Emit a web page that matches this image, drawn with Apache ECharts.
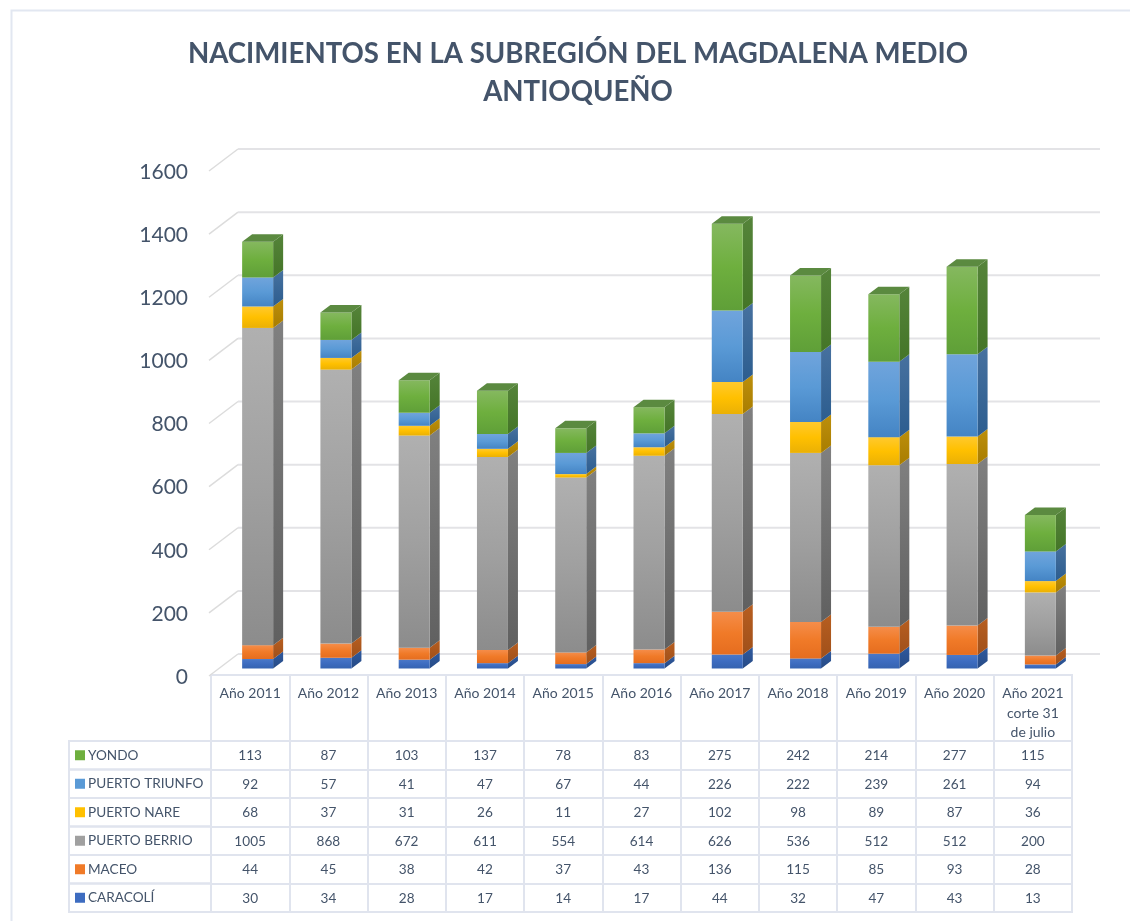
<!DOCTYPE html>
<html>
<head>
<meta charset="utf-8">
<style>html,body{margin:0;padding:0;background:#fff}#c{width:1130px;height:921px}</style>
<script src="https://cdn.jsdelivr.net/npm/echarts@6/dist/echarts.min.js"></script>
</head>
<body>
<div id="c"></div>
<script>
const chartTitle = 'NACIMIENTOS EN LA SUBREGIÓN DEL MAGDALENA MEDIO\nANTIOQUEÑO';
const categories = ['Año 2011','Año 2012','Año 2013','Año 2014','Año 2015','Año 2016','Año 2017','Año 2018','Año 2019','Año 2020','Año 2021\ncorte 31\nde julio'];
const caracoli = [30,34,28,17,14,17,44,32,47,43,13];
const maceo = [44,45,38,42,37,43,136,115,85,93,28];
const puertoBerrio = [1005,868,672,611,554,614,626,536,512,512,200];
const puertoNare = [68,37,31,26,11,27,102,98,89,87,36];
const puertoTriunfo = [92,57,41,47,67,44,226,222,239,261,94];
const yondo = [113,87,103,137,78,83,275,242,214,277,115];
const yTicks = [0,200,400,600,800,1000,1200,1400,1600];

const INK = '#44546a', TABLE_LINE = '#e0e4ee', WALL_LINE = '#e3e3e6', FONT = 'Lato';
const BAR_W = 31, DX = 10, DY = 7.5, BAR_SHIFT_X = 7.5, BAR_SHIFT_Y = 8.5, WALL_DX = 27, WALL_DY = 23, LEFT_COL = 142;

const stacks = [
  {name:'CARACOLÍ', values:caracoli, front:['#4a78c8','#3d6cc0','#3563b0'], side:['#2f5a9f','#264a85']},
  {name:'MACEO', values:maceo, front:['#f58d4a','#f07a28','#e56d1f'], side:['#b75e20','#a0501a']},
  {name:'PUERTO BERRIO', values:puertoBerrio, front:['#b0b0b0','#a0a0a0','#8c8c8c'], side:['#808080','#606060']},
  {name:'PUERTO NARE', values:puertoNare, front:['#ffc92e','#ffc000','#eab005'], side:['#bd8f0c','#a87d00']},
  {name:'PUERTO TRIUNFO', values:puertoTriunfo, front:['#70a4dc','#5a9ad6','#4484c4'], side:['#47719f','#2c5d8f']},
  {name:'YONDO', values:yondo, front:['#85b85f','#6eaf3e','#5f9f38'], side:['#55843a','#447527'], top:'#5b8a40'}
];
const rowOrder = stacks.slice().reverse();
const rowNames = rowOrder.map(s => s.name);

function grad(colors){
  return {type:'linear',x:0,y:0,x2:0,y2:1,colorStops:colors.map((c,i)=>({offset:i/(colors.length-1),color:c}))};
}

function renderWall(params, api){
  const cs = params.coordSys;
  const y = api.coord([0, api.value(1)])[1];
  const x0 = cs.x, x1 = cs.x + WALL_DX, x2 = cs.x + cs.width + WALL_DX + 1;
  return {type:'group',children:[
    {type:'line',shape:{x1:x0-2,y1:y-1,x2:x1,y2:y-WALL_DY},style:{stroke:'#dcdcdc',lineWidth:1.5}},
    {type:'line',shape:{x1:x1,y1:y-WALL_DY,x2:x2,y2:y-WALL_DY},style:{stroke:WALL_LINE,lineWidth:2}}
  ]};
}

function makeRenderBar(stack){
  return function(params, api){
    const i = api.value(0);
    const c = api.coord([i, api.value(1)]);
    const d = api.coord([i, api.value(2)]);
    const xL = c[0] - BAR_W/2 + BAR_SHIFT_X, xR = xL + BAR_W;
    const yB = c[1] - BAR_SHIFT_Y, yT = d[1] - BAR_SHIFT_Y;
    const children = [
      {type:'polygon',shape:{points:[[xR,yB],[xR+DX,yB-DY],[xR+DX,yT-DY],[xR,yT]]},style:{fill:grad(stack.side)}},
      {type:'rect',shape:{x:xL,y:yT,width:BAR_W,height:yB-yT},style:{fill:grad(stack.front)}}
    ];
    if(stack.top){
      children.push({type:'polygon',shape:{points:[[xL,yT],[xL+DX,yT-DY],[xR+DX,yT-DY],[xR,yT]]},style:{fill:stack.top}});
    }
    return {type:'group',children};
  };
}

function renderCell(params, api){
  const p = api.coord([api.value(0), api.value(1)]);
  return {type:'text',style:{text:String(api.value(2)),x:p[0],y:p[1]+0.5,align:'center',verticalAlign:'middle',fill:INK,font:'13.6px '+FONT}};
}

function renderLeftCell(params, api){
  const cs = params.coordSys;
  const p = api.coord([0, api.value(0)]);
  const h = api.size([0,1])[1];
  return {type:'rect',shape:{x:cs.x-LEFT_COL,y:p[1]-h/2,width:LEFT_COL,height:h},style:{fill:'none',stroke:TABLE_LINE,lineWidth:2}};
}

const barSeries = [];
stacks.forEach(stack => {
  const data = categories.map((_, i) => {
    let start = 0;
    for(const s of stacks){ if(s === stack) break; start += s.values[i]; }
    return [i, start, start + stack.values[i]];
  });
  barSeries.push({type:'custom',name:stack.name,xAxisIndex:0,yAxisIndex:0,z:3,renderItem:makeRenderBar(stack),data,encode:{x:0,y:[1,2]},silent:true});
});

const cellData = [];
rowOrder.forEach((s,j) => s.values.forEach((v,i) => cellData.push([i,j,v])));

const richStyles = {t:{color:INK,fontFamily:FONT,fontSize:13.6,padding:[0,0,0,3]}};
rowOrder.forEach((s,j) => { richStyles['m'+j] = {backgroundColor:s.front[1],width:10,height:10}; });

const option = {
  animation:false,
  backgroundColor:'#ffffff',
  textStyle:{fontFamily:FONT,color:INK},
  title:{text:chartTitle,left:578,top:35,padding:0,textAlign:'center',textStyle:{fontFamily:FONT,fontWeight:'bold',fontSize:27.6,lineHeight:38,color:INK}},
  graphic:[{type:'polyline',silent:true,z:0,shape:{points:[[11.5,921],[11.5,10.5],[1130,10.5]]},style:{fill:'none',stroke:'#e2e7f1',lineWidth:2}}],
  grid:[
    {left:211,top:172,width:861,height:505,show:false},
    {left:211,top:675,width:861,height:66,show:true,borderColor:TABLE_LINE,borderWidth:2},
    {left:211,top:741,width:861,height:171,show:true,borderColor:TABLE_LINE,borderWidth:2}
  ],
  xAxis:[
    {gridIndex:0,type:'category',data:categories,axisLine:{show:false},axisTick:{show:false},axisLabel:{show:false},splitLine:{show:false}},
    {gridIndex:1,type:'category',position:'top',data:categories,axisLine:{show:false},axisTick:{show:false},
      axisLabel:{show:true,inside:true,interval:0,margin:9,fontFamily:FONT,fontSize:14,color:INK,lineHeight:19.5,verticalAlign:'top'},
      splitLine:{show:true,interval:0,lineStyle:{color:TABLE_LINE,width:2}}},
    {gridIndex:2,type:'category',data:categories,axisLine:{show:false},axisTick:{show:false},axisLabel:{show:false},
      splitLine:{show:true,interval:0,lineStyle:{color:TABLE_LINE,width:2}}}
  ],
  yAxis:[
    {gridIndex:0,type:'value',min:0,max:1600,interval:200,axisLine:{show:false},axisTick:{show:false},splitLine:{show:false},
      axisLabel:{margin:23,fontFamily:FONT,fontSize:21,color:INK,formatter:v=>String(v)}},
    {gridIndex:1,type:'value',show:false,min:0,max:1,splitLine:{show:false}},
    {gridIndex:2,type:'category',inverse:true,data:rowNames,axisLine:{show:false},axisTick:{show:false},
      axisLabel:{interval:0,align:'left',margin:136,rich:richStyles,
        formatter:(v,j)=>'{m'+j+'|}{t|'+v+'}'},
      splitLine:{show:true,interval:0,lineStyle:{color:TABLE_LINE,width:2}}}
  ],
  series:[
    {type:'custom',name:'wall',xAxisIndex:0,yAxisIndex:0,z:1,silent:true,renderItem:renderWall,data:yTicks.map(t=>[0,t]),encode:{y:1}},
    ...barSeries,
    {type:'custom',name:'cells',xAxisIndex:2,yAxisIndex:2,z:3,silent:true,renderItem:renderCell,data:cellData},
    {type:'custom',name:'leftCells',xAxisIndex:2,yAxisIndex:2,z:2,silent:true,renderItem:renderLeftCell,data:rowNames.map((_,j)=>[j]),encode:{y:0}}
  ]
};
const chart = echarts.init(document.getElementById('c'),null,{renderer:'canvas'});
chart.setOption(option);
</script>
</body>
</html>
